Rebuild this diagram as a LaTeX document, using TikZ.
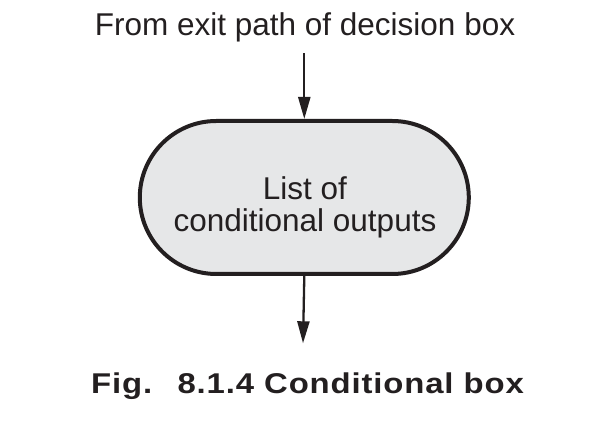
\documentclass[tikz,border=0pt]{standalone}
\usepackage{fontspec}
\setmainfont{Liberation Sans}
\newfontfamily\capfont[LetterSpace=3,FakeStretch=1.15]{Liberation Sans}
\usetikzlibrary{shapes.misc,arrows.meta}
\definecolor{ink}{HTML}{231F20}
\definecolor{boxfill}{HTML}{E6E7E8}
\tikzset{
  txt/.style={inner sep=0pt, outer sep=0pt, text=ink, font=\fontsize{31.5}{32.4}\selectfont},
  stadium/.style={rounded rectangle, draw=ink, fill=boxfill, line width=4pt,
    minimum width=329pt, minimum height=153pt, inner sep=0pt},
  arr/.style={draw=ink, line width=2.3pt, -{Triangle[length=22pt,width=12pt]}},
  captxt/.style={inner sep=0pt, outer sep=0pt, text=ink, font=\capfont\bfseries\fontsize{28.6}{34}\selectfont}
}
\begin{document}
\begin{tikzpicture}[x=1pt,y=-1pt]
\useasboundingbox (0,0) rectangle (605,435);
\node[txt, anchor=base] (src) at (305,35.5) {From exit path of decision box};
\node[stadium] (box) at (304.3,197.5) {};
\node[txt, align=center] (boxtext) at (305,207.3) {List of\\conditional outputs};
\coordinate (out) at (303,343.3);
\draw[arr, shorten <=11pt] (box.north |- src.south) -- (box.north);
\draw[arr] (box.south) -- (out);
\node[captxt, anchor=base] (cap) at (307.5,393) {Fig.\hspace{12pt} 8.1.4 Conditional box};
\end{tikzpicture}
\end{document}
